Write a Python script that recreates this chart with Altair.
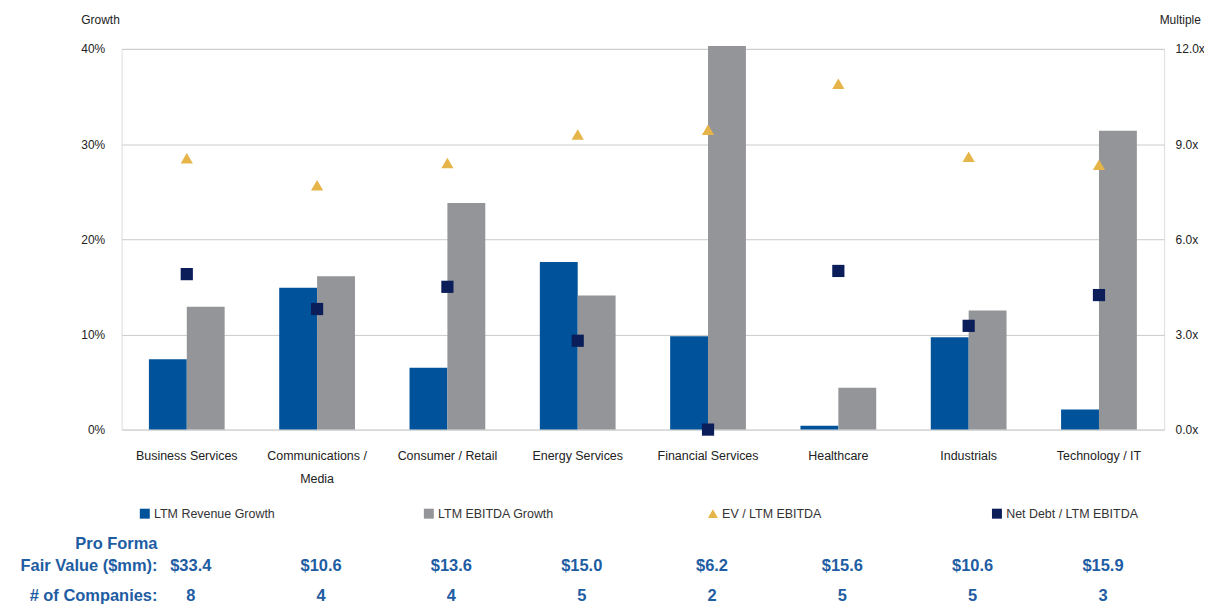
import altair as alt
import pandas as pd

categories = ["Business Services", "Communications / Media", "Consumer / Retail", "Energy Services",
              "Financial Services", "Healthcare", "Industrials", "Technology / IT"]
rev_growth = [7.4, 14.9, 6.5, 17.6, 9.8, 0.4, 9.7, 2.1]          # %
ebitda_growth = [12.9, 16.1, 23.8, 14.1, 40.3, 4.4, 12.5, 31.4]  # %
ev_ebitda = [8.55, 7.7, 8.4, 9.3, 9.45, 10.9, 8.6, 8.35]         # x
net_debt = [4.9, 3.8, 4.5, 2.8, 0.0, 5.0, 3.27, 4.24]            # x
fair_value = ["$33.4", "$10.6", "$13.6", "$15.0", "$6.2", "$15.6", "$10.6", "$15.9"]
companies = [8, 4, 4, 5, 2, 5, 5, 3]
header_labels = ["Pro Forma", "Fair Value ($mm):", "# of Companies:"]

series = ["LTM Revenue Growth", "LTM EBITDA Growth", "EV / LTM EBITDA", "Net Debt / LTM EBITDA"]
series_colors = ["#00539B", "#939598", "#E6B54A", "#0C1E5A"]
series_shapes = ["square", "square", "triangle-up", "square"]

FONT = "Liberation Sans"
TABLE_BLUE = "#1E5DA3"

bars = pd.DataFrame(
    [{"category": c, "series": series[0], "value": v / 100} for c, v in zip(categories, rev_growth)]
    + [{"category": c, "series": series[1], "value": v / 100} for c, v in zip(categories, ebitda_growth)]
)
points = pd.DataFrame(
    [{"category": c, "series": series[2], "value": v} for c, v in zip(categories, ev_ebitda)]
    + [{"category": c, "series": series[3], "value": v} for c, v in zip(categories, net_debt)]
)
table = pd.DataFrame({"category": categories, "fv": fair_value, "n": [str(n) for n in companies]})

color_scale = alt.Scale(domain=series, range=series_colors)
shape_scale = alt.Scale(domain=series, range=series_shapes)
legend = alt.Legend(
    title=None, orient="none", legendX=17, legendY=460, direction="horizontal", columns=4,
    gridAlign="all", columnPadding=137, symbolSize=100, symbolStrokeWidth=0,
    labelFont=FONT, labelFontSize=12.5, labelColor="#333333", labelOffset=3, labelLimit=300,
)

x_axis = alt.Axis(
    title=None, labelAngle=0, domain=False, ticks=False, labelPadding=20,
    labelFont=FONT, labelFontSize=12.5, labelColor="#222222", labelLimit=250,
    labelLineHeight=23,
    labelExpr="datum.value == 'Communications / Media' ? ['Communications /', 'Media'] : datum.label",
)
x_scale = alt.Scale(paddingInner=0, paddingOuter=0)


def x_enc():
    return alt.X("category:N", sort=categories, scale=x_scale, axis=x_axis)


bar_layer = alt.Chart(bars).mark_bar(width=38).encode(
    x=x_enc(),
    xOffset=alt.XOffset("series:N", sort=series[:2], scale=alt.Scale(paddingInner=0, paddingOuter=0.72)),
    y=alt.Y(
        "value:Q",
        scale=alt.Scale(domain=[0, 0.4], nice=False),
        axis=alt.Axis(
            values=[0, 0.1, 0.2, 0.3, 0.4], format=".0%", grid=True, gridColor="#CBCBCB",
            domain=False, ticks=False, labelPadding=17, labelFont=FONT, labelFontSize=12,
            labelColor="#222222", title="Growth", titleAngle=0, titleX=-41, titleY=-29,
            titleAlign="left", titleBaseline="middle", titleFont=FONT, titleFontSize=12,
            titleFontWeight="normal", titleColor="#222222",
        ),
    ),
    color=alt.Color("series:N", scale=color_scale, legend=legend),
)

point_layer = alt.Chart(points).mark_point(filled=True, size=150, opacity=1).encode(
    x=x_enc(),
    y=alt.Y(
        "value:Q",
        scale=alt.Scale(domain=[0, 12], nice=False),
        axis=alt.Axis(
            orient="right", values=[0, 3, 6, 9, 12], labelExpr="format(datum.value, '.1f') + 'x'",
            grid=False, domain=False, ticks=False, labelPadding=11, labelFont=FONT, labelFontSize=12,
            labelColor="#222222", title="Multiple", titleAngle=0, titleX=-5, titleY=-29,
            titleAlign="left", titleBaseline="middle", titleFont=FONT, titleFontSize=12,
            titleFontWeight="normal", titleColor="#222222",
        ),
    ),
    color=alt.Color("series:N", scale=color_scale, legend=legend),
    shape=alt.Shape("series:N", scale=shape_scale, legend=legend),
)

text_style = dict(font=FONT, fontSize=16.5, fontWeight="bold", color=TABLE_BLUE, baseline="middle")

fv_layer = alt.Chart(table).mark_text(align="center", dx=4, **text_style).encode(
    x=x_enc(), y=alt.value(519), text="fv:N"
)
n_layer = alt.Chart(table).mark_text(align="center", dx=4, **text_style).encode(
    x=x_enc(), y=alt.value(549), text="n:N"
)

header_rows = [497, 519, 549]
header_layers = [
    alt.Chart(pd.DataFrame({"t": [t]})).mark_text(align="right", **text_style).encode(
        x=alt.value(36), y=alt.value(yy), text="t:N"
    )
    for t, yy in zip(header_labels, header_rows)
]

chart = alt.layer(bar_layer, point_layer, fv_layer, n_layer, *header_layers).resolve_scale(
    y="independent"
).properties(
    width=1046, height=382,
    autosize=alt.AutoSizeParams(type="none"),
    padding={"left": 114, "top": 40, "right": 40, "bottom": 175},
).configure_view(stroke=None).configure(font=FONT, background="white")

chart.save("out.html", embed_options={"renderer": "svg", "actions": False})
